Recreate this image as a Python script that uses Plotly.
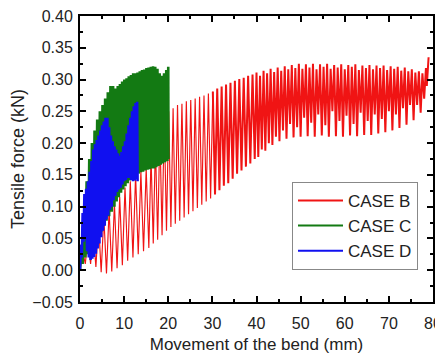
import plotly.graph_objects as go

# CASE B (red) – turning points of the cyclic record (movement mm, force kN)
case_b_x = [
    0.0, 0.6, 1.2, 1.8, 2.4, 3.0, 3.6, 4.2, 4.8, 5.4, 6.0, 6.6, 7.2, 7.8, 8.4, 9.0, 9.6, 10.2,
    10.8, 11.4, 12.0, 12.6, 13.2, 13.8, 14.4, 15.0, 15.6,
    16.1, 16.6, 17.1, 17.6, 18.1, 18.6, 19.1, 19.6, 20.1, 20.6, 21.1, 21.6, 22.1, 22.6, 23.1, 23.6,
    24.1, 24.6, 25.1, 25.6, 26.1, 26.6, 27.1, 27.6, 28.1, 28.6, 29.1, 29.6, 30.1, 30.6, 31.1, 31.6,
    32.1, 32.6, 33.1, 33.6, 34.1, 34.6, 35.1, 35.6, 36.1, 36.6, 37.1, 37.6, 38.1, 38.6, 39.1, 39.6,
    40.0, 40.4, 40.8, 41.2, 41.6, 42.0, 42.4, 42.8, 43.2, 43.6, 44.0, 44.4, 44.8, 45.2, 45.6, 46.0,
    46.4, 46.8, 47.2, 47.6, 48.0, 48.4, 48.8, 49.2, 49.6, 50.0, 50.4, 50.8, 51.2, 51.6, 52.0, 52.4,
    52.8, 53.2, 53.6, 54.0, 54.4, 54.8, 55.2, 55.6, 56.0, 56.4, 56.8, 57.2, 57.6, 58.0, 58.4, 58.8,
    59.2, 59.6, 60.0, 60.4, 60.8, 61.2, 61.6, 62.0, 62.4, 62.8, 63.2, 63.6, 64.0, 64.4, 64.8, 65.2,
    65.6, 66.0, 66.4, 66.8, 67.2, 67.6, 68.0, 68.4, 68.8, 69.2, 69.6, 70.0, 70.4, 70.8, 71.2, 71.6,
    72.0, 72.4, 72.8, 73.2, 73.6, 74.0, 74.4, 74.8, 75.2, 75.6, 76.0, 76.4, 76.8, 77.2, 77.6, 78.0,
    78.4, 78.6, 79.0,
]
case_b_force = [
    0.00, 0.03, 0.01, 0.05, 0.01, 0.06, 0.005, 0.075, -0.003, 0.085, -0.005, 0.095, -0.002, 0.105,
    0.003, 0.115, 0.008, 0.13, 0.015, 0.14, 0.02, 0.15, 0.025, 0.155, 0.03, 0.16, 0.035,
    0.18, 0.042, 0.20, 0.048, 0.22, 0.055, 0.24, 0.062, 0.25, 0.068, 0.255, 0.073, 0.26, 0.078,
    0.262, 0.083, 0.266, 0.088, 0.268, 0.093, 0.27, 0.098, 0.273, 0.103, 0.275, 0.108, 0.278, 0.113,
    0.281, 0.119, 0.286, 0.126, 0.289, 0.133, 0.292, 0.137, 0.295, 0.144, 0.298, 0.152, 0.301, 0.157,
    0.303, 0.163, 0.306, 0.168, 0.308, 0.175,
    0.311, 0.178, 0.306, 0.19, 0.314, 0.188, 0.31, 0.20, 0.317, 0.197, 0.312, 0.21, 0.319, 0.203,
    0.314, 0.22, 0.321, 0.207, 0.316, 0.23, 0.323, 0.209, 0.318, 0.225, 0.325, 0.21, 0.317, 0.24,
    0.324, 0.211, 0.319, 0.232, 0.325, 0.21, 0.316, 0.245, 0.324, 0.212, 0.32, 0.228, 0.325, 0.21,
    0.317, 0.25, 0.323, 0.211, 0.319, 0.235, 0.324, 0.21, 0.316, 0.243, 0.323, 0.212, 0.32, 0.23,
    0.324, 0.211, 0.315, 0.248, 0.322, 0.213, 0.318, 0.235, 0.323, 0.213, 0.316, 0.245, 0.322, 0.215,
    0.318, 0.238, 0.322, 0.217, 0.315, 0.25, 0.321, 0.22, 0.317, 0.245, 0.32, 0.224, 0.314, 0.255,
    0.319, 0.229, 0.313, 0.26, 0.316, 0.236, 0.311, 0.26, 0.313, 0.248, 0.31, 0.27,
    0.318, 0.29, 0.335,
]

# CASE C (green)
case_c_x = [
    0.0, 0.3, 0.6, 0.9, 1.2, 1.5, 1.8, 2.1, 2.4, 2.7, 3.0, 3.3, 3.6, 3.9, 4.2, 4.5, 4.8, 5.1,
    5.4, 5.7, 6.0, 6.3, 6.6, 6.9, 7.2, 7.5, 7.8,
    8.05, 8.3, 8.55, 8.8, 9.05, 9.3, 9.55, 9.8, 10.05, 10.3, 10.55, 10.8, 11.05, 11.3, 11.55, 11.8,
    12.05, 12.3, 12.55, 12.8, 13.05, 13.3, 13.55, 13.8, 14.05, 14.3, 14.55, 14.8, 15.05, 15.3,
    15.55, 15.8, 16.05, 16.3, 16.55, 16.8, 17.05, 17.3, 17.55, 17.8, 18.05, 18.3, 18.55, 18.8,
    19.05, 19.3, 19.55, 19.8, 20.0, 20.05,
]
case_c_force = [
    0.00, 0.04, 0.01, 0.09, 0.02, 0.14, 0.025, 0.175, 0.03, 0.20, 0.04, 0.22, 0.045, 0.237, 0.052,
    0.25, 0.06, 0.26, 0.07, 0.27, 0.078, 0.28, 0.085, 0.29, 0.092, 0.29, 0.10,
    0.286, 0.108, 0.29, 0.115, 0.293, 0.122, 0.297, 0.127, 0.30, 0.132, 0.302, 0.137, 0.305, 0.141,
    0.307, 0.146, 0.31, 0.148, 0.31, 0.15, 0.311, 0.152, 0.313, 0.154, 0.315, 0.155, 0.316, 0.157,
    0.318, 0.158, 0.319, 0.159, 0.32, 0.16, 0.321, 0.16, 0.32, 0.162, 0.317, 0.164, 0.31, 0.166,
    0.306, 0.168, 0.31, 0.17, 0.315, 0.172, 0.32, 0.175,
]

# CASE D (blue)
case_d_x = [
    0.0, 0.2, 0.4, 0.6, 0.8, 1.0, 1.2, 1.4, 1.6, 1.8, 2.0, 2.2, 2.4, 2.6, 2.8, 3.0, 3.2, 3.4,
    3.6, 3.8, 4.0, 4.2, 4.4, 4.6, 4.8, 5.0, 5.2, 5.4, 5.6, 5.8, 6.0, 6.2, 6.4, 6.6, 6.8, 7.0,
    7.2, 7.4, 7.6, 7.8, 8.0, 8.2, 8.4, 8.6, 8.8, 9.0, 9.2, 9.4, 9.6, 9.8, 10.0, 10.2, 10.4, 10.6,
    10.8, 11.0, 11.2, 11.4, 11.6, 11.8, 12.0, 12.2, 12.4, 12.6, 12.8, 12.95, 13.05,
]
case_d_force = [
    0.00, 0.04, 0.02, 0.09, 0.045, 0.12, 0.05, 0.128, 0.03, 0.14, 0.02, 0.155, 0.016, 0.172, 0.018,
    0.19, 0.021, 0.198, 0.026, 0.205, 0.034, 0.212, 0.042, 0.22, 0.052, 0.228, 0.062, 0.234, 0.07,
    0.24, 0.08, 0.24, 0.086, 0.225, 0.095, 0.212, 0.10, 0.203, 0.11, 0.195, 0.117, 0.19, 0.123,
    0.184, 0.127, 0.18, 0.13, 0.186, 0.135, 0.195, 0.14, 0.203, 0.142, 0.215, 0.145, 0.228, 0.145,
    0.24, 0.142, 0.25, 0.14, 0.258, 0.141, 0.263, 0.143, 0.265, 0.14,
]

series_names = ["CASE B", "CASE C", "CASE D"]
series_colors = ["#f01414", "#137a13", "#1010f0"]

FONT = "Liberation Sans, Arial, sans-serif"

# split point of the red record: sparse early cycles / dense late cycles
b_split = case_b_x.index(30.1)

fig = go.Figure()
fig.add_trace(go.Scatter(x=case_b_x[:b_split + 1], y=case_b_force[:b_split + 1], mode="lines",
                         name=series_names[0], legendgroup="b", showlegend=False,
                         line=dict(color=series_colors[0], width=1.15, simplify=False)))
fig.add_trace(go.Scatter(x=case_b_x[b_split:], y=case_b_force[b_split:], mode="lines",
                         name=series_names[0], legendgroup="b", showlegend=False,
                         line=dict(color=series_colors[0], width=2.0, simplify=False)))
fig.add_trace(go.Scatter(x=case_c_x, y=case_c_force, mode="lines", name=series_names[1],
                         legendgroup="c", showlegend=False,
                         line=dict(color=series_colors[1], width=2.6, simplify=False)))
fig.add_trace(go.Scatter(x=case_d_x, y=case_d_force, mode="lines", name=series_names[2],
                         legendgroup="d", showlegend=False,
                         line=dict(color=series_colors[2], width=2.6, simplify=False)))

# legend keys (same colours, thinner key lines as in the reference legend)
for name, col, grp in zip(series_names, series_colors, ["b", "c", "d"]):
    fig.add_trace(go.Scatter(x=[None], y=[None], mode="lines", name=name, legendgroup=grp,
                             line=dict(color=col, width=2)))

axis_common = dict(
    showline=True, linecolor="black", linewidth=2, mirror="ticks",
    ticks="inside", ticklen=6, tickwidth=1.5, tickcolor="black",
    showgrid=False, zeroline=False, automargin=False,
    ticklabeloverflow="allow",
    tickfont=dict(family=FONT, size=16, color="#222"),
)

fig.update_xaxes(
    range=[0, 80], dtick=10, tick0=0, ticklabelstandoff=6,
    minor=dict(ticks="inside", ticklen=3, tickwidth=1.5, dtick=5, tickcolor="black"),
    title=dict(text="Movement of the bend (mm)", font=dict(family=FONT, size=17, color="#222"),
               standoff=14),
    **axis_common,
)
fig.update_yaxes(
    range=[-0.05, 0.40], dtick=0.05, tick0=0, tickformat=".2f", ticklabelstandoff=2,
    minor=dict(ticks="inside", ticklen=3, tickwidth=1.5, dtick=0.025, tickcolor="black"),
    title=dict(text="Tensile force (kN)", font=dict(family=FONT, size=18, color="#222"),
               standoff=6),
    **axis_common,
)

# page body adds an 8px offset; figure is sized so the plot lands where the reference has it
fig.update_layout(
    width=435, height=346,
    margin=dict(l=72, r=10, t=8, b=52),
    paper_bgcolor="white", plot_bgcolor="white",
    showlegend=True,
    legend=dict(
        x=0.9575, y=0.112, xanchor="right", yanchor="bottom",
        bgcolor="white", bordercolor="#888", borderwidth=1,
        font=dict(family=FONT, size=17, color="#222"),
        tracegroupgap=0, itemwidth=45,
    ),
)

fig.write_html("out.html")
